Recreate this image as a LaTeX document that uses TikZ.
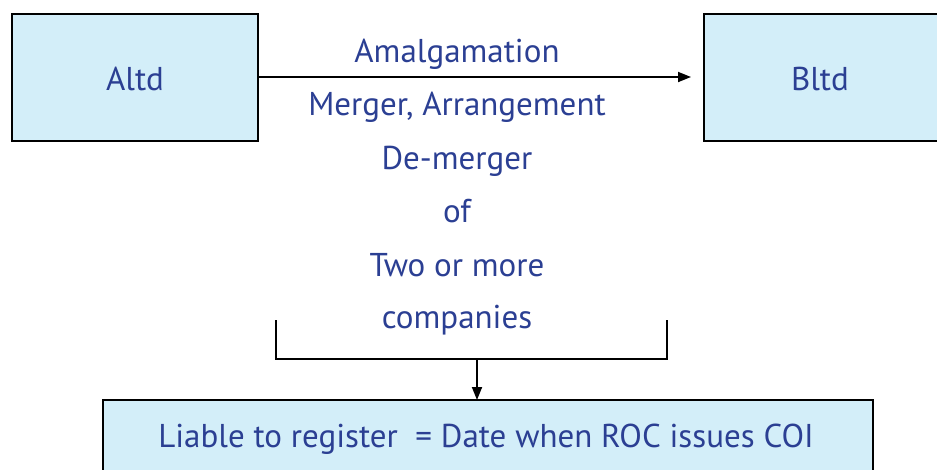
\documentclass[tikz,border=0pt]{standalone}
\usepackage{fontspec}
\setmainfont{PT Sans}
\usetikzlibrary{arrows.meta}
\definecolor{txt}{HTML}{2B3F93}
\definecolor{boxfill}{HTML}{D3EEF9}
\begin{document}
\begin{tikzpicture}[x=1pt,y=-1pt,
  box/.style={draw=black,line width=2.6pt,fill=boxfill},
  lbl/.style={text=txt,font=\fontsize{33}{38}\selectfont,inner sep=0pt,anchor=base},
  conn/.style={line width=1.8pt,-{Triangle[length=13pt,width=10pt]}}]
\useasboundingbox (0,0) rectangle (937,469);
\begin{scope}
\clip (0,0) rectangle (937,469);
\draw[box] (12,14) rectangle (258,141);
\node[lbl] (a) at (135,90) {Altd};
\draw[box] (704,14) rectangle (960,141);
\node[lbl] (b) at (820,90) {Bltd};
\draw[box] (103,400) rectangle (873,490);
\node[lbl] (c) at (486,447) {Liable to register\ \ = Date when ROC issues COI};
\end{scope}
\coordinate (aR) at (259,77);
\coordinate (bL) at (691,77);
\draw[conn] (aR) -- (bL);
\node[lbl] (t1) at (457,62) {Amalgamation};
\node[lbl] (t2) at (457,115) {Merger, Arrangement};
\node[lbl] (t3) at (457,169) {De-merger};
\node[lbl] (t4) at (457,222) {of};
\node[lbl] (t5) at (457,276) {Two or more};
\node[lbl] (t6) at (457,328) {companies};
\coordinate (bl) at (276,320);
\coordinate (br) at (667,320);
\coordinate (bm) at (477,359);
\coordinate (ctop) at (477,400);
\draw[line width=1.8pt] (bl) |- (bm) -| (br);
\draw[conn] (bm) -- (ctop);
\end{tikzpicture}
\end{document}
